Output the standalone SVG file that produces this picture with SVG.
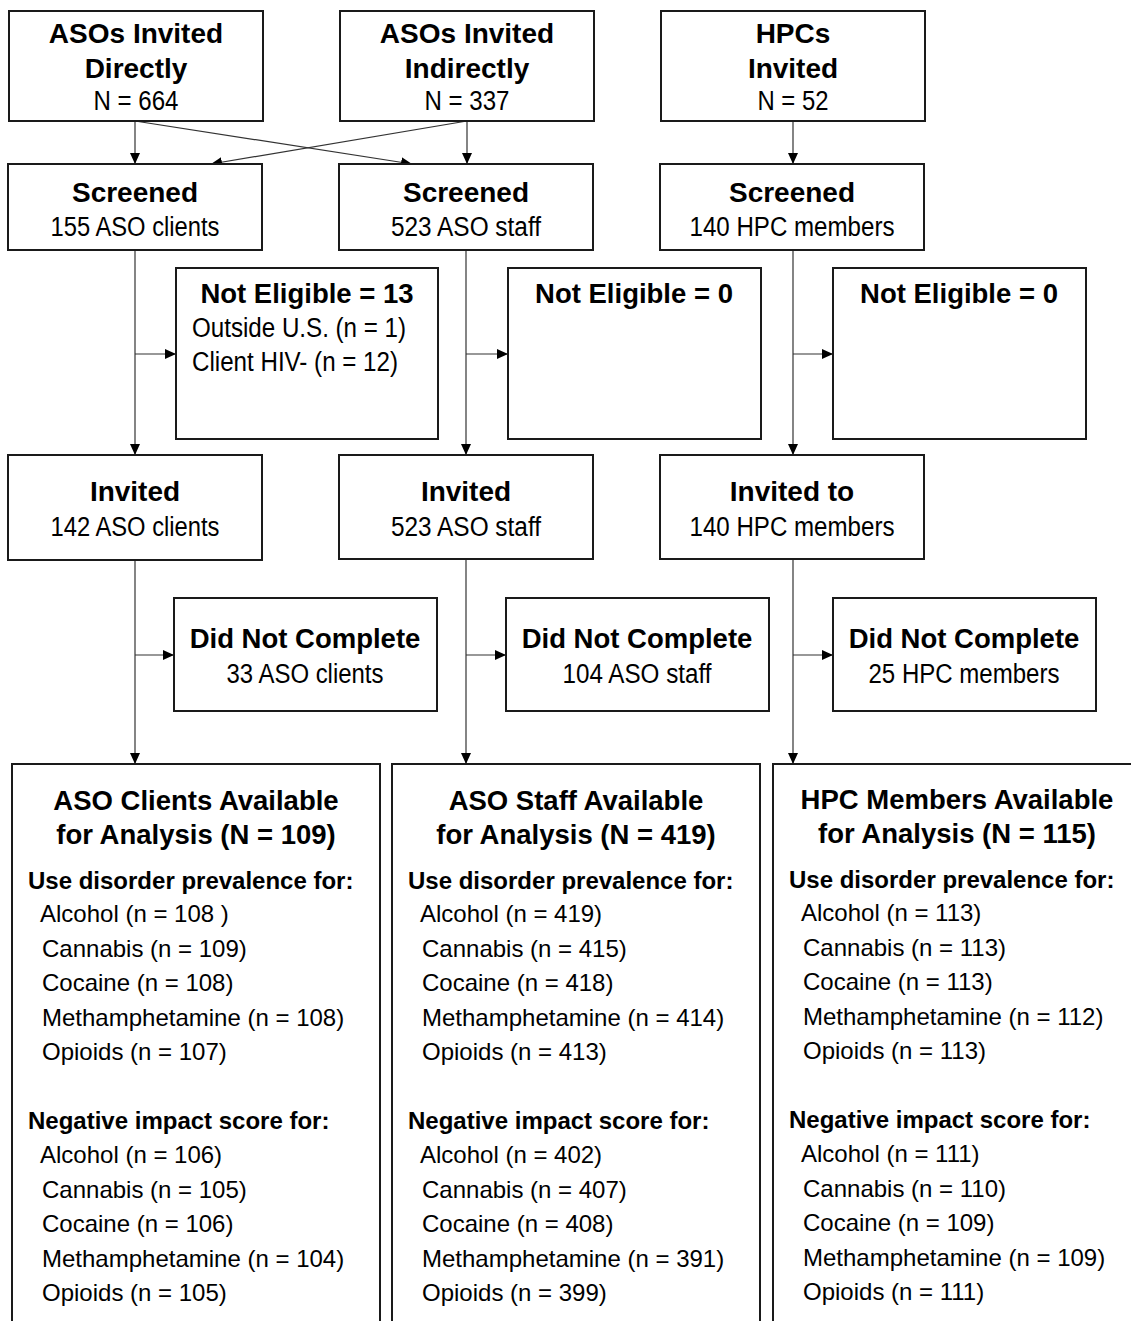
<svg xmlns="http://www.w3.org/2000/svg" width="1131" height="1321" viewBox="0 0 1131 1321">
<style>
.box{fill:#fff;stroke:#1a1a1a;stroke-width:2}
.b{font-family:"Liberation Sans",Arial,sans-serif;font-weight:bold;font-size:28px;fill:#000;text-anchor:middle}
.r{font-family:"Liberation Sans",Arial,sans-serif;font-size:27px;fill:#000;text-anchor:middle}
.rl{font-family:"Liberation Sans",Arial,sans-serif;font-size:27px;fill:#000}
.bt{font-family:"Liberation Sans",Arial,sans-serif;font-weight:bold;font-size:27.5px;fill:#000;text-anchor:middle}
.bh{font-family:"Liberation Sans",Arial,sans-serif;font-weight:bold;font-size:24px;fill:#000}
.it{font-family:"Liberation Sans",Arial,sans-serif;font-size:24px;fill:#000}
.c{fill:none;stroke:#333;stroke-width:1.2}
</style>
<defs>
<marker id="ah" markerUnits="userSpaceOnUse" markerWidth="12" markerHeight="10" refX="11" refY="5" orient="auto">
<path d="M0,0 L11,5 L0,10 z" fill="#000"/>
</marker>
</defs>
<rect width="1131" height="1321" fill="#fff"/>

<g id="connectors">
<line class="c" x1="135" y1="121" x2="135" y2="164" marker-end="url(#ah)"/>
<line class="c" x1="135" y1="121" x2="412" y2="164" marker-end="url(#ah)"/>
<line class="c" x1="467" y1="121" x2="211" y2="164" marker-end="url(#ah)"/>
<line class="c" x1="467" y1="121" x2="467" y2="164" marker-end="url(#ah)"/>
<line class="c" x1="793" y1="121" x2="793" y2="164" marker-end="url(#ah)"/>
<line class="c" x1="135" y1="250" x2="135" y2="455" marker-end="url(#ah)"/>
<line class="c" x1="466" y1="250" x2="466" y2="455" marker-end="url(#ah)"/>
<line class="c" x1="793" y1="250" x2="793" y2="455" marker-end="url(#ah)"/>
<line class="c" x1="135" y1="354" x2="176" y2="354" marker-end="url(#ah)"/>
<line class="c" x1="466" y1="354" x2="508" y2="354" marker-end="url(#ah)"/>
<line class="c" x1="793" y1="354" x2="833" y2="354" marker-end="url(#ah)"/>
<line class="c" x1="135" y1="560" x2="135" y2="764" marker-end="url(#ah)"/>
<line class="c" x1="466" y1="559" x2="466" y2="764" marker-end="url(#ah)"/>
<line class="c" x1="793" y1="559" x2="793" y2="764" marker-end="url(#ah)"/>
<line class="c" x1="135" y1="655" x2="174" y2="655" marker-end="url(#ah)"/>
<line class="c" x1="466" y1="655" x2="506" y2="655" marker-end="url(#ah)"/>
<line class="c" x1="793" y1="655" x2="833" y2="655" marker-end="url(#ah)"/>
</g>

<g id="n-aso-direct">
<rect class="box" x="9" y="11" width="254" height="110"/>
<text class="b" x="136" y="43">ASOs Invited</text>
<text class="b" x="136" y="78">Directly</text>
<text class="r" x="136" y="110" textLength="85" lengthAdjust="spacingAndGlyphs">N = 664</text>
</g>
<g id="n-aso-indirect">
<rect class="box" x="340" y="11" width="254" height="110"/>
<text class="b" x="467" y="43">ASOs Invited</text>
<text class="b" x="467" y="78">Indirectly</text>
<text class="r" x="467" y="110" textLength="85" lengthAdjust="spacingAndGlyphs">N = 337</text>
</g>
<g id="n-hpc">
<rect class="box" x="661" y="11" width="264" height="110"/>
<text class="b" x="793" y="43">HPCs</text>
<text class="b" x="793" y="78">Invited</text>
<text class="r" x="793" y="110" textLength="71" lengthAdjust="spacingAndGlyphs">N = 52</text>
</g>

<g id="n-scr1">
<rect class="box" x="8" y="164" width="254" height="86"/>
<text class="b" x="135" y="202">Screened</text>
<text class="r" x="135" y="236" textLength="169" lengthAdjust="spacingAndGlyphs">155 ASO clients</text>
</g>
<g id="n-scr2">
<rect class="box" x="339" y="164" width="254" height="86"/>
<text class="b" x="466" y="202">Screened</text>
<text class="r" x="466" y="236" textLength="150" lengthAdjust="spacingAndGlyphs">523 ASO staff</text>
</g>
<g id="n-scr3">
<rect class="box" x="660" y="164" width="264" height="86"/>
<text class="b" x="792" y="202">Screened</text>
<text class="r" x="792" y="236" textLength="205" lengthAdjust="spacingAndGlyphs">140 HPC members</text>
</g>

<g id="n-ne1">
<rect class="box" x="176" y="268" width="262" height="171"/>
<text class="bt" x="307" y="303">Not Eligible = 13</text>
<text class="rl" x="192" y="337" textLength="214" lengthAdjust="spacingAndGlyphs">Outside U.S. (n = 1)</text>
<text class="rl" x="192" y="371" textLength="206" lengthAdjust="spacingAndGlyphs">Client HIV- (n = 12)</text>
</g>
<g id="n-ne2">
<rect class="box" x="508" y="268" width="253" height="171"/>
<text class="bt" x="634" y="303">Not Eligible = 0</text>
</g>
<g id="n-ne3">
<rect class="box" x="833" y="268" width="253" height="171"/>
<text class="bt" x="959" y="303">Not Eligible = 0</text>
</g>

<g id="n-inv1">
<rect class="box" x="8" y="455" width="254" height="105"/>
<text class="b" x="135" y="501">Invited</text>
<text class="r" x="135" y="536" textLength="169" lengthAdjust="spacingAndGlyphs">142 ASO clients</text>
</g>
<g id="n-inv2">
<rect class="box" x="339" y="455" width="254" height="104"/>
<text class="b" x="466" y="501">Invited</text>
<text class="r" x="466" y="536" textLength="150" lengthAdjust="spacingAndGlyphs">523 ASO staff</text>
</g>
<g id="n-inv3">
<rect class="box" x="660" y="455" width="264" height="104"/>
<text class="b" x="792" y="501">Invited to</text>
<text class="r" x="792" y="536" textLength="205" lengthAdjust="spacingAndGlyphs">140 HPC members</text>
</g>

<g id="n-dnc1">
<rect class="box" x="174" y="598" width="263" height="113"/>
<text class="bt" x="305" y="648">Did Not Complete</text>
<text class="r" x="305" y="683" textLength="157" lengthAdjust="spacingAndGlyphs">33 ASO clients</text>
</g>
<g id="n-dnc2">
<rect class="box" x="506" y="598" width="263" height="113"/>
<text class="bt" x="637" y="648">Did Not Complete</text>
<text class="r" x="637" y="683" textLength="149" lengthAdjust="spacingAndGlyphs">104 ASO staff</text>
</g>
<g id="n-dnc3">
<rect class="box" x="833" y="598" width="263" height="113"/>
<text class="bt" x="964" y="648">Did Not Complete</text>
<text class="r" x="964" y="683" textLength="191" lengthAdjust="spacingAndGlyphs">25 HPC members</text>
</g>

<g id="n-clients">
<rect class="box" x="12" y="764" width="368" height="580"/>
<text class="bt" x="196" y="810">ASO Clients Available</text>
<text class="bt" x="196" y="844">for Analysis (N = 109)</text>
<text class="bh" x="28" y="889">Use disorder prevalence for:</text>
<text class="it" x="40" y="922">Alcohol  (n = 108 )</text>
<text class="it" x="42" y="957">Cannabis (n = 109)</text>
<text class="it" x="42" y="991">Cocaine (n = 108)</text>
<text class="it" x="42" y="1026">Methamphetamine (n = 108)</text>
<text class="it" x="42" y="1060">Opioids (n = 107)</text>
<text class="bh" x="28" y="1129">Negative impact score for:</text>
<text class="it" x="40" y="1163">Alcohol (n = 106)</text>
<text class="it" x="42" y="1198">Cannabis (n = 105)</text>
<text class="it" x="42" y="1232">Cocaine (n = 106)</text>
<text class="it" x="42" y="1267">Methamphetamine (n = 104)</text>
<text class="it" x="42" y="1301">Opioids (n = 105)</text>
</g>
<g id="n-staff">
<rect class="box" x="392" y="764" width="368" height="580"/>
<text class="bt" x="576" y="810">ASO Staff Available</text>
<text class="bt" x="576" y="844">for Analysis (N = 419)</text>
<text class="bh" x="408" y="889">Use disorder prevalence for:</text>
<text class="it" x="420" y="922">Alcohol (n = 419)</text>
<text class="it" x="422" y="957">Cannabis (n = 415)</text>
<text class="it" x="422" y="991">Cocaine (n = 418)</text>
<text class="it" x="422" y="1026">Methamphetamine (n = 414)</text>
<text class="it" x="422" y="1060">Opioids (n = 413)</text>
<text class="bh" x="408" y="1129">Negative impact score for:</text>
<text class="it" x="420" y="1163">Alcohol (n = 402)</text>
<text class="it" x="422" y="1198">Cannabis (n = 407)</text>
<text class="it" x="422" y="1232">Cocaine (n = 408)</text>
<text class="it" x="422" y="1267">Methamphetamine (n = 391)</text>
<text class="it" x="422" y="1301">Opioids (n = 399)</text>
</g>
<g id="n-hpcm">
<rect class="box" x="773" y="764" width="370" height="580"/>
<text class="bt" x="957" y="809">HPC Members Available</text>
<text class="bt" x="957" y="843">for Analysis (N = 115)</text>
<text class="bh" x="789" y="888">Use disorder prevalence for:</text>
<text class="it" x="801" y="921">Alcohol (n = 113)</text>
<text class="it" x="803" y="956">Cannabis (n = 113)</text>
<text class="it" x="803" y="990">Cocaine (n = 113)</text>
<text class="it" x="803" y="1025">Methamphetamine (n = 112)</text>
<text class="it" x="803" y="1059">Opioids (n = 113)</text>
<text class="bh" x="789" y="1128">Negative impact score for:</text>
<text class="it" x="801" y="1162">Alcohol (n = 111)</text>
<text class="it" x="803" y="1197">Cannabis (n = 110)</text>
<text class="it" x="803" y="1231">Cocaine (n = 109)</text>
<text class="it" x="803" y="1266">Methamphetamine (n = 109)</text>
<text class="it" x="803" y="1300">Opioids (n = 111)</text>
</g>
</svg>
